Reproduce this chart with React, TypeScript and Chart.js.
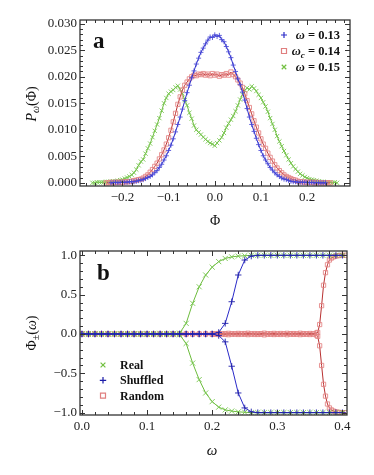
import React, { useEffect, useRef } from "react";
import { Chart, registerables } from "chart.js";

Chart.register(...registerables);

const SERIF = "'Liberation Serif', 'Times New Roman', Times, serif";

// ---------- Panel a: distributions P_ω(Φ) ----------
const phi = [
  -0.265, -0.26, -0.255, -0.25, -0.245, -0.24, -0.235, -0.23, -0.225, -0.22,
  -0.215, -0.21, -0.205, -0.2, -0.195, -0.19, -0.185, -0.18, -0.175, -0.17,
  -0.165, -0.16, -0.155, -0.15, -0.145, -0.14, -0.135, -0.13, -0.125, -0.12,
  -0.115, -0.11, -0.105, -0.1, -0.095, -0.09, -0.085, -0.08, -0.075, -0.07,
  -0.065, -0.06, -0.055, -0.05, -0.045, -0.04, -0.035, -0.03, -0.025, -0.02,
  -0.015, -0.01, -0.005, 0, 0.005, 0.01, 0.015, 0.02, 0.025, 0.03,
  0.035, 0.04, 0.045, 0.05, 0.055, 0.06, 0.065, 0.07, 0.075, 0.08,
  0.085, 0.09, 0.095, 0.1, 0.105, 0.11, 0.115, 0.12, 0.125, 0.13,
  0.135, 0.14, 0.145, 0.15, 0.155, 0.16, 0.165, 0.17, 0.175, 0.18,
  0.185, 0.19, 0.195, 0.2, 0.205, 0.21, 0.215, 0.22, 0.225, 0.23,
  0.235, 0.24, 0.245, 0.25, 0.255, 0.26, 0.265,
];

const pOmega013 = [
  null, null, null, null, null, null, null, null, 0.0, 0.0,
  0.0001, 0.0, 0.0001, 0.0001, 0.0001, 0.0001, 0.0002, 0.0002, 0.0002, 0.0003,
  0.0004, 0.0005, 0.0006, 0.0008, 0.001, 0.0012, 0.0015, 0.0019, 0.0023, 0.0029,
  0.0035, 0.0043, 0.0051, 0.0061, 0.0071, 0.0083, 0.0096, 0.011, 0.0124, 0.0139,
  0.0155, 0.017, 0.0184, 0.0198, 0.0211, 0.0224, 0.0235, 0.0246, 0.0254, 0.0262,
  0.0269, 0.0275, 0.0274, 0.0279, 0.0276, 0.0278, 0.027, 0.0266, 0.0257, 0.0247,
  0.0236, 0.0222, 0.021, 0.0196, 0.0185, 0.0171, 0.0156, 0.014, 0.0124, 0.011,
  0.0097, 0.0084, 0.0072, 0.0061, 0.0051, 0.0043, 0.0036, 0.0029, 0.0024, 0.0019,
  0.0015, 0.0012, 0.0009, 0.0007, 0.0006, 0.0004, 0.0003, 0.0002, 0.0002, 0.0001,
  0.0001, 0.0001, 0.0001, 0.0001, 0.0, 0.0001, 0.0, 0.0, 0.0, 0.0,
  0.0, 0.0, null, null, null, null, null,
];

const pOmegaC014 = [
  null, null, null, null, null, null, 0.0, 0.0, 0.0001, 0.0,
  0.0001, 0.0001, 0.0001, 0.0001, 0.0002, 0.0002, 0.0002, 0.0003, 0.0004, 0.0005,
  0.0006, 0.0007, 0.0009, 0.0012, 0.0015, 0.002, 0.0025, 0.0031, 0.0037, 0.0045,
  0.0053, 0.0062, 0.0073, 0.0085, 0.0099, 0.0115, 0.0131, 0.0148, 0.0162, 0.0175,
  0.0184, 0.019, 0.0196, 0.02, 0.0203, 0.0202, 0.0205, 0.0204, 0.0206, 0.0203,
  0.0205, 0.0202, 0.0206, 0.0203, 0.0205, 0.0201, 0.0204, 0.0203, 0.0206, 0.0203,
  0.0209, 0.0204, 0.02, 0.0194, 0.0188, 0.018, 0.0168, 0.0155, 0.0142, 0.013,
  0.0117, 0.0105, 0.0094, 0.0083, 0.0073, 0.0065, 0.0056, 0.0048, 0.0041, 0.0034,
  0.0028, 0.0023, 0.0019, 0.0015, 0.0012, 0.001, 0.0008, 0.0006, 0.0005, 0.0003,
  0.0002, 0.0002, 0.0001, 0.0001, 0.0001, 0.0001, 0.0, 0.0001, 0.0, 0.0,
  0.0, 0.0, 0.0, 0.0, null, null, null,
];

const pOmega015 = [
  0.0, 0.0, 0.0001, 0.0001, 0.0001, 0.0001, 0.0002, 0.0002, 0.0002, 0.0003,
  0.0003, 0.0004, 0.0005, 0.0006, 0.0008, 0.001, 0.0012, 0.0015, 0.0019, 0.0025,
  0.0033, 0.004, 0.0044, 0.0055, 0.0065, 0.0074, 0.0086, 0.0098, 0.011, 0.0122,
  0.0136, 0.015, 0.016, 0.0168, 0.0172, 0.0175, 0.018, 0.0183, 0.0176, 0.0168,
  0.0156, 0.0146, 0.0132, 0.0121, 0.0108, 0.01, 0.0095, 0.0091, 0.0086, 0.0082,
  0.0078, 0.0075, 0.0073, 0.007, 0.0075, 0.008, 0.0086, 0.0094, 0.0104, 0.0112,
  0.0119, 0.0126, 0.0135, 0.0146, 0.0157, 0.0166, 0.0174, 0.0179, 0.0176, 0.0182,
  0.0178, 0.0173, 0.0166, 0.016, 0.0152, 0.0144, 0.0134, 0.0122, 0.0111, 0.01,
  0.0088, 0.0078, 0.0069, 0.006, 0.0052, 0.0044, 0.0037, 0.0031, 0.0026, 0.0021,
  0.0017, 0.0014, 0.0011, 0.0009, 0.0007, 0.0006, 0.0005, 0.0004, 0.0003, 0.0002,
  0.0002, 0.0001, 0.0001, 0.0001, 0.0, 0.0001, 0.0,
];

const phiTicks = [-0.2, -0.1, 0, 0.1, 0.2];
const pTicks = [0, 0.005, 0.01, 0.015, 0.02, 0.025, 0.03];

// ---------- Panel b: order parameter branches Φ±(ω) ----------
const omega = [
  0, 0.01, 0.02, 0.03, 0.04, 0.05, 0.06, 0.07, 0.08, 0.09,
  0.1, 0.11, 0.12, 0.13, 0.14, 0.15, 0.16, 0.17, 0.18, 0.19,
  0.2, 0.21, 0.22, 0.23, 0.24, 0.25, 0.26, 0.27, 0.28, 0.29,
  0.3, 0.31, 0.32, 0.33, 0.34, 0.35, 0.36, 0.37, 0.38, 0.39,
  0.4,
];

const realPlus = [
  0, 0, 0, 0, 0, 0, 0, 0, 0, 0,
  0, 0, 0, 0, 0, 0.01, 0.135, 0.39, 0.6, 0.75,
  0.85, 0.92, 0.96, 0.98, 0.99, 0.995, 1, 1, 1, 1,
  1, 1, 1, 1, 1, 1, 1, 1, 1, 1,
  1,
];
const realMinus = [
  0, 0, 0, 0, 0, 0, 0, 0, 0, 0,
  0, 0, 0, 0, 0, -0.01, -0.12, -0.37, -0.58, -0.75,
  -0.86, -0.93, -0.965, -0.98, -0.99, -0.995, -1, -1, -1, -1,
  -1, -1, -1, -1, -1, -1, -1, -1, -1, -1,
  -1,
];

const shuffledPlus = [
  0, 0, 0, 0, 0, 0, 0, 0, 0, 0,
  0, 0, 0, 0, 0, 0, 0, 0, 0, 0,
  0, 0.02, 0.135, 0.41, 0.75, 0.94, 0.99, 1, 1, 1,
  1, 1, 1, 1, 1, 1, 1, 1, 1, 1,
  1,
];
const shuffledMinus = [
  0, 0, 0, 0, 0, 0, 0, 0, 0, 0,
  0, 0, 0, 0, 0, 0, 0, 0, 0, 0,
  0, -0.02, -0.1, -0.41, -0.75, -0.94, -0.99, -1, -1, -1,
  -1, -1, -1, -1, -1, -1, -1, -1, -1, -1,
  -1,
];

const omegaRandom = [
  0, 0.01, 0.02, 0.03, 0.04, 0.05, 0.06, 0.07, 0.08, 0.09,
  0.1, 0.11, 0.12, 0.13, 0.14, 0.15, 0.16, 0.17, 0.18, 0.19,
  0.2, 0.205, 0.21, 0.215, 0.22, 0.225, 0.23, 0.235, 0.24, 0.245,
  0.25, 0.255, 0.26, 0.265, 0.27, 0.275, 0.28, 0.285, 0.29, 0.295,
  0.3, 0.305, 0.31, 0.315, 0.32, 0.325, 0.33, 0.335, 0.34, 0.345,
  0.35, 0.355, 0.36,
  0.362, 0.365, 0.368, 0.371, 0.374, 0.377, 0.38, 0.383, 0.386, 0.389,
  0.392, 0.395, 0.4, 0.405,
];
const randomPlus = [
  0, 0, 0, 0, 0, 0, 0, 0, 0, 0,
  0, 0, 0, 0, 0, 0, 0, 0, 0, 0,
  0.004, -0.003, 0.006, 0.002, -0.005, 0.008, 0.003, -0.002, 0.007, 0.001,
  -0.004, 0.009, 0.002, 0.005, -0.006, 0.004, 0.01, -0.002, 0.003, 0.007,
  -0.004, 0.006, 0.002, 0.008, -0.003, 0.005, 0.001, 0.009, -0.005, 0.004,
  0.006, 0.003, 0.012,
  0.02, 0.12, 0.36, 0.62, 0.78, 0.88, 0.94, 0.965, 0.98, 0.99,
  0.995, 0.997, 1, 1,
];
const randomMinus = [
  0, 0, 0, 0, 0, 0, 0, 0, 0, 0,
  0, 0, 0, 0, 0, 0, 0, 0, 0, 0,
  -0.005, 0.003, -0.007, -0.002, 0.004, -0.009, -0.003, 0.002, -0.006, -0.001,
  0.005, -0.008, -0.002, -0.006, 0.004, -0.004, -0.011, 0.002, -0.003, -0.007,
  0.003, -0.006, -0.001, -0.009, 0.004, -0.005, -0.002, -0.008, 0.005, -0.004,
  -0.007, -0.003, -0.014,
  -0.03, -0.15, -0.4, -0.64, -0.79, -0.89, -0.94, -0.965, -0.98, -0.99,
  -0.995, -0.997, -1, -1,
];

const omegaTicks = [0, 0.1, 0.2, 0.3, 0.4];
const phiPmTicks = [-1, -0.5, 0, 0.5, 1];

const legendA = [
  { name: "ω", sub: "", value: " = 0.13", style: "cross", color: "#2c2cc8" },
  { name: "ω", sub: "c", value: " = 0.14", style: "rect", color: "#e07f7f" },
  { name: "ω", sub: "", value: " = 0.15", style: "crossRot", color: "#72c040" },
];
const legendB = [
  { name: "Real", style: "crossRot", color: "#72c040" },
  { name: "Shuffled", style: "cross", color: "#1c1ca8" },
  { name: "Random", style: "rect", color: "#e07f7f" },
];

// ---------- helpers ----------
type Part = { t: string; f: string; dy?: number };

function drawRich(ctx: CanvasRenderingContext2D, parts: Part[], x: number, y: number, align: "left" | "center" | "right") {
  ctx.textBaseline = "alphabetic";
  ctx.textAlign = "left";
  let w = 0;
  for (const p of parts) {
    ctx.font = p.f;
    w += ctx.measureText(p.t).width;
  }
  let cx = align === "left" ? x : align === "center" ? x - w / 2 : x - w;
  for (const p of parts) {
    ctx.font = p.f;
    ctx.fillText(p.t, cx, y + (p.dy || 0));
    cx += ctx.measureText(p.t).width;
  }
}

function drawMarker(ctx: CanvasRenderingContext2D, style: string, x: number, y: number, r: number, color: string) {
  ctx.save();
  ctx.strokeStyle = color;
  ctx.lineWidth = 1.2;
  ctx.beginPath();
  if (style === "cross") {
    ctx.moveTo(x - r, y);
    ctx.lineTo(x + r, y);
    ctx.moveTo(x, y - r);
    ctx.lineTo(x, y + r);
  } else if (style === "crossRot") {
    const d = r * 0.75;
    ctx.moveTo(x - d, y - d);
    ctx.lineTo(x + d, y + d);
    ctx.moveTo(x - d, y + d);
    ctx.lineTo(x + d, y - d);
  } else {
    ctx.rect(x - r, y - r, 2 * r, 2 * r);
  }
  ctx.stroke();
  ctx.restore();
}

function fmt(v: number, d: number) {
  const s = Number(v).toFixed(d);
  return s.startsWith("-") && Number(s) !== 0 ? "\u2212" + s.slice(1) : s.replace("-", "");
}

function makeFramePlugin(xMajor: number[], xMinorStep: number, yMajor: number[], yMinorStep: number, extra: (ctx: CanvasRenderingContext2D) => void) {
  return {
    id: "frameDeco",
    afterDraw(chart: any) {
      const ctx: CanvasRenderingContext2D = chart.ctx;
      const a = chart.chartArea;
      const xs = chart.scales.x;
      const ys = chart.scales.y;
      const isMajor = (arr: number[], v: number) => arr.some((m) => Math.abs(m - v) < 1e-9);
      ctx.save();
      ctx.strokeStyle = "#333";
      ctx.lineWidth = 1;
      ctx.beginPath();
      const xTick = (v: number, len: number) => {
        const p = Math.round(xs.getPixelForValue(v)) + 0.5;
        ctx.moveTo(p, a.bottom);
        ctx.lineTo(p, a.bottom - len);
        ctx.moveTo(p, a.top);
        ctx.lineTo(p, a.top + len);
      };
      const yTick = (v: number, len: number) => {
        const p = Math.round(ys.getPixelForValue(v)) + 0.5;
        ctx.moveTo(a.left, p);
        ctx.lineTo(a.left + len, p);
        ctx.moveTo(a.right, p);
        ctx.lineTo(a.right - len, p);
      };
      xMajor.forEach((v) => xTick(v, 5));
      for (let k = Math.ceil(xs.min / xMinorStep - 1e-9); k * xMinorStep <= xs.max + 1e-12; k++) {
        const v = k * xMinorStep;
        if (!isMajor(xMajor, v)) xTick(v, 3);
      }
      yMajor.forEach((v) => yTick(v, 5));
      for (let k = Math.ceil(ys.min / yMinorStep - 1e-9); k * yMinorStep <= ys.max + 1e-12; k++) {
        const v = k * yMinorStep;
        if (!isMajor(yMajor, v)) yTick(v, 3);
      }
      ctx.stroke();
      ctx.lineWidth = 1.3;
      ctx.strokeStyle = "#333";
      ctx.strokeRect(a.left, a.top, a.right - a.left, a.bottom - a.top);
      ctx.fillStyle = "#111";
      extra(ctx);
      ctx.restore();
    },
  };
}

function pairs(xs: number[], ys: (number | null)[]) {
  return xs.map((x, i) => ({ x, y: ys[i] }));
}

const tickFont = { family: SERIF, size: 13 };

export default function App() {
  const refA = useRef<HTMLCanvasElement>(null);
  const refB = useRef<HTMLCanvasElement>(null);

  useEffect(() => {
    const decoA = makeFramePlugin(phiTicks, 0.02, pTicks, 0.001, (ctx) => {
      ctx.fillStyle = "#111";
      drawRich(ctx, [{ t: "a", f: `bold 23px ${SERIF}` }], 93, 48, "left");
      legendA.forEach((l, i) => {
        const cy = 35 + i * 16;
        drawMarker(ctx, l.style, 284, cy, l.style === "rect" ? 2.5 : 3, l.color);
        ctx.fillStyle = "#111";
        const parts: Part[] = [{ t: l.name, f: `italic bold 12.5px ${SERIF}` }];
        if (l.sub) parts.push({ t: l.sub, f: `italic bold 9px ${SERIF}`, dy: 3 });
        parts.push({ t: l.value, f: `bold 12.5px ${SERIF}` });
        drawRich(ctx, parts, 340, cy + 4, "right");
      });
      drawRich(ctx, [{ t: "Φ", f: `14px ${SERIF}` }], 215, 225, "center");
      ctx.save();
      ctx.translate(36, 104);
      ctx.rotate(-Math.PI / 2);
      drawRich(
        ctx,
        [
          { t: "P", f: `italic 14px ${SERIF}` },
          { t: "ω", f: `italic 10px ${SERIF}`, dy: 3 },
          { t: "(Φ)", f: `14px ${SERIF}` },
        ],
        0,
        0,
        "center"
      );
      ctx.restore();
    });

    const chartA = new Chart(refA.current as HTMLCanvasElement, {
      type: "line",
      data: {
        datasets: [
          {
            label: "ω = 0.13",
            data: pairs(phi, pOmega013),
            borderColor: "#2a2ac8",
            borderWidth: 1,
            pointStyle: "cross",
            pointRadius: 2.5,
            pointBorderWidth: 1,
            pointBorderColor: "rgba(70,70,215,0.85)",
            pointBackgroundColor: "rgba(0,0,0,0)",
          },
          {
            label: "ωc = 0.14",
            data: pairs(phi, pOmegaC014),
            borderColor: "#b83030",
            borderWidth: 1,
            pointStyle: "rect",
            pointRadius: 3,
            pointBorderWidth: 1,
            pointBorderColor: "rgba(228,130,130,0.85)",
            pointBackgroundColor: "rgba(0,0,0,0)",
          },
          {
            label: "ω = 0.15",
            data: pairs(phi, pOmega015),
            borderColor: "#6cbc3c",
            borderWidth: 1,
            pointStyle: "crossRot",
            pointRadius: 3,
            pointBorderWidth: 1,
            pointBorderColor: "rgba(120,198,80,0.9)",
            pointBackgroundColor: "rgba(0,0,0,0)",
          },
        ],
      },
      options: {
        responsive: false,
        animation: false,
        devicePixelRatio: 1,
        layout: { padding: { top: 20, right: 24, left: 0, bottom: 0 } },
        plugins: { legend: { display: false }, tooltip: { enabled: false } },
        elements: { line: { tension: 0 } },
        scales: {
          x: {
            type: "linear",
            min: -0.292,
            max: 0.293,
            grid: { display: false, drawTicks: false },
            border: { display: false },
            afterBuildTicks: (s: any) => {
              s.ticks = phiTicks.map((v) => ({ value: v }));
            },
            afterFit: (s: any) => {
              s.height = 50;
            },
            ticks: {
              padding: 4,
              font: tickFont,
              color: "#222",
              maxRotation: 0,
              autoSkip: false,
              callback: (v: any) => fmt(Number(v), 1),
            },
          },
          y: {
            type: "linear",
            min: -0.0006,
            max: 0.0307,
            grid: { display: false, drawTicks: false },
            border: { display: false },
            afterBuildTicks: (s: any) => {
              s.ticks = pTicks.map((v) => ({ value: v }));
            },
            afterFit: (s: any) => {
              s.width = 80;
            },
            ticks: {
              padding: 3,
              font: tickFont,
              color: "#222",
              autoSkip: false,
              callback: (v: any) => fmt(Number(v), 3),
            },
          },
        },
      } as any,
      plugins: [decoA],
    });

    const decoB = makeFramePlugin(omegaTicks, 0.02, phiPmTicks, 0.1, (ctx) => {
      ctx.fillStyle = "#111";
      drawRich(ctx, [{ t: "b", f: `bold 23px ${SERIF}` }], 97, 44, "left");
      legendB.forEach((l, i) => {
        const cy = 129 + i * 15.3;
        drawMarker(ctx, l.style, 103, cy, l.style === "rect" ? 2.5 : 3.2, l.color);
        ctx.fillStyle = "#111";
        drawRich(ctx, [{ t: l.name, f: `bold 12px ${SERIF}` }], 120, cy + 4, "left");
      });
      drawRich(ctx, [{ t: "ω", f: `italic 15px ${SERIF}` }], 212, 219, "center");
      ctx.save();
      ctx.translate(36, 97);
      ctx.rotate(-Math.PI / 2);
      drawRich(
        ctx,
        [
          { t: "Φ", f: `14px ${SERIF}` },
          { t: "±", f: `10px ${SERIF}`, dy: 3 },
          { t: "(", f: `14px ${SERIF}` },
          { t: "ω", f: `italic 14px ${SERIF}` },
          { t: ")", f: `14px ${SERIF}` },
        ],
        0,
        0,
        "center"
      );
      ctx.restore();
    });

    const blueB = {
      borderColor: "#2a2ac8",
      borderWidth: 1,
      pointStyle: "cross",
      pointRadius: 3.2,
      pointBorderWidth: 1,
      pointBorderColor: "rgba(30,30,170,0.9)",
      pointBackgroundColor: "rgba(0,0,0,0)",
    };
    const greenB = {
      borderColor: "#6cbc3c",
      borderWidth: 1,
      pointStyle: "crossRot",
      pointRadius: 3.6,
      pointBorderWidth: 1,
      pointBorderColor: "rgba(120,198,80,0.9)",
      pointBackgroundColor: "rgba(0,0,0,0)",
    };
    const redB = {
      borderColor: "#b83030",
      borderWidth: 1,
      pointStyle: "rect",
      pointRadius: 3,
      pointBorderWidth: 1,
      pointBorderColor: "rgba(228,130,130,0.85)",
      pointBackgroundColor: "rgba(0,0,0,0)",
    };

    const chartB = new Chart(refB.current as HTMLCanvasElement, {
      type: "line",
      data: {
        datasets: [
          { label: "Shuffled +", data: pairs(omega, shuffledPlus), ...blueB },
          { label: "Shuffled −", data: pairs(omega, shuffledMinus), ...blueB },
          { label: "Real +", data: pairs(omega, realPlus), ...greenB },
          { label: "Real −", data: pairs(omega, realMinus), ...greenB },
          { label: "Random +", data: pairs(omegaRandom, randomPlus), ...redB },
          { label: "Random −", data: pairs(omegaRandom, randomMinus), ...redB },
        ],
      },
      options: {
        responsive: false,
        animation: false,
        devicePixelRatio: 1,
        layout: { padding: { top: 15, right: 27, left: 0, bottom: 0 } },
        plugins: { legend: { display: false }, tooltip: { enabled: false } },
        elements: { line: { tension: 0 } },
        scales: {
          x: {
            type: "linear",
            min: -0.003,
            max: 0.407,
            grid: { display: false, drawTicks: false },
            border: { display: false },
            afterBuildTicks: (s: any) => {
              s.ticks = omegaTicks.map((v) => ({ value: v }));
            },
            afterFit: (s: any) => {
              s.height = 60;
            },
            ticks: {
              padding: 4,
              font: tickFont,
              color: "#222",
              maxRotation: 0,
              autoSkip: false,
              callback: (v: any) => fmt(Number(v), 1),
            },
          },
          y: {
            type: "linear",
            min: -1.03,
            max: 1.055,
            grid: { display: false, drawTicks: false },
            border: { display: false },
            afterBuildTicks: (s: any) => {
              s.ticks = phiPmTicks.map((v) => ({ value: v }));
            },
            afterFit: (s: any) => {
              s.width = 80;
            },
            ticks: {
              padding: 3,
              font: tickFont,
              color: "#222",
              autoSkip: false,
              callback: (v: any) => fmt(Number(v), 1),
            },
          },
        },
      } as any,
      plugins: [decoB],
    });

    return () => {
      chartA.destroy();
      chartB.destroy();
    };
  }, []);

  return (
    <div style={{ position: "absolute", left: 0, top: 0, width: 374, height: 475, background: "#fff" }}>
      <canvas ref={refA} width={374} height={236} style={{ display: "block", width: 374, height: 236 }} />
      <canvas ref={refB} width={374} height={239} style={{ display: "block", width: 374, height: 239 }} />
    </div>
  );
}
